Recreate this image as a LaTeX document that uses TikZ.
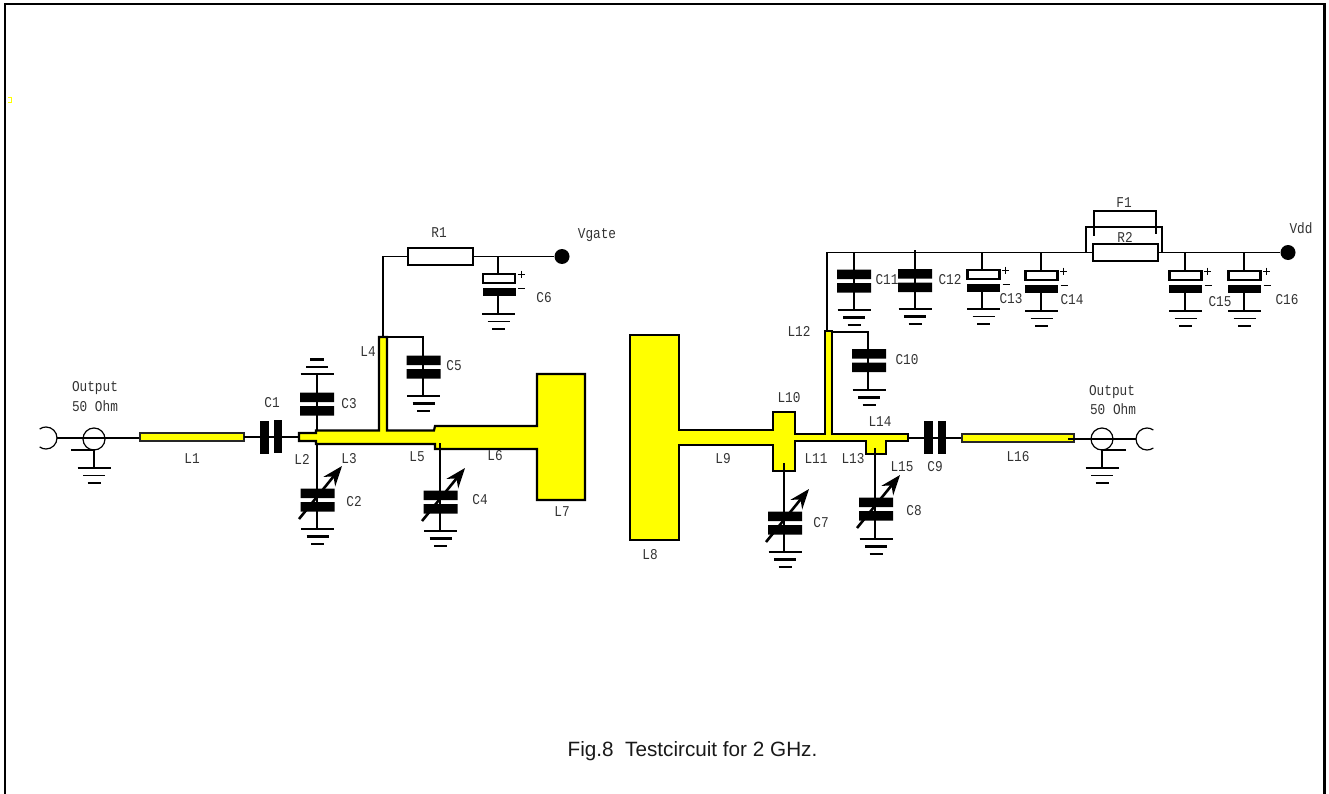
\documentclass[tikz,border=0pt]{standalone}
\usepackage{fontspec}
\setmainfont{Liberation Sans}
\setmonofont[FakeStretch=0.85]{Liberation Mono}
\usetikzlibrary{arrows.meta}
\definecolor{striptone}{RGB}{255,255,0}
\tikzset{
	wire/.style={line width=1.2pt, color=black},
	leg/.style={line width=2.6pt, color=black},
	strip/.style={draw=black, line width=2.2pt, fill=striptone, line join=miter},
	partlabel/.style={font=\ttfamily\fontsize{15}{17}\selectfont, color=black!80, inner sep=0pt},
	resbox/.style={draw=black, line width=2.2pt, fill=white, minimum width=65pt, minimum height=17pt, inner sep=0pt},
	padnode/.style={circle, fill=black, minimum size=15pt, inner sep=0pt},
}
\def\groundbars[#1](#2,#3){\draw[#1] (#2-16.5,#3) -- (#2+16.5,#3) (#2-11,#3+7.5) -- (#2+11,#3+7.5) (#2-6.5,#3+15) -- (#2+6.5,#3+15);}
\def\platecap(#1,#2){\fill[black] (#1-17,#2-11.5) rectangle (#1+17,#2-2) (#1-17,#2+2) rectangle (#1+17,#2+11.5);}
\def\trimarrow(#1,#2){\draw[line width=2.6pt, -{Stealth[length=20pt,width=15pt]}] (#1-18,#2+19) -- (#1+25,#2-34);}
\def\polarcap(#1,#2){
	\draw[line width=2.2pt] (#1-16,#2-9) rectangle (#1+16,#2);
	\fill[black] (#1-16.5,#2+5) rectangle (#1+16.5,#2+13);
	\draw[line width=0.9pt] (#1+18.5,#2-9) -- (#1+25.5,#2-9) (#1+22,#2-12.5) -- (#1+22,#2-5.5) (#1+19,#2+5) -- (#1+26,#2+5);
}

\begin{document}
\begin{tikzpicture}[x=1pt, y=-1pt]
			\useasboundingbox (0,0) rectangle (1329,794);
			
			%%%%% FRAME %%%%%
			\draw[line width=2.2pt] (5,794) -- (5,4) -- (1324.5,4) -- (1324.5,794);
			\draw[striptone, line width=1.5pt] (8,97.5) -- (11.5,97.5) -- (11.5,102.5) -- (8,102.5);
			
			%%%%% INPUT SIDE %%%%%
			\coordinate (portA) at (57,438);
			\coordinate (coaxA) at (94,439);
			\coordinate (stubA) at (94,450);
			\coordinate (earthA) at (94,468);
			\coordinate (lineA) at (145,438);
			\draw[wire] (portA) arc (0:-125:11);
			\draw[wire] (portA) arc (0:125:11);
			\draw[wire] (portA) -- (lineA);
			\draw[wire] (coaxA) circle (11);
			\draw[wire] (71,450) -- (stubA) -- (earthA);
			\groundbars[wire](94,468);
			
			\draw[strip, line width=2.4pt, draw=black!85] (140,433) rectangle (244,441);
			
			\coordinate (capAleft) at (244,437);
			\coordinate (capAright) at (299,437);
			\draw[wire] (capAleft) -- (capAright);
			\fill[black] (260,421) rectangle (269,454);
			\fill[black] (274,420) rectangle (282,453);
			
			%%%%% GATE STRIP %%%%%
			\coordinate (gateTop) at (383,337);
			\coordinate (gateBend) at (383,256.5);
			\node[resbox] (resOne) at (440.5,256.5) {};
			\node[padnode] (padGate) at (562,256.5) {};
			\coordinate (capSix) at (498,256.5);
			\draw[wire] (gateTop) -- (gateBend) -- (resOne.west);
			\draw[wire] (resOne.east) -- (padGate);
			\draw[wire] (capSix) -- (498,274);
			\draw[wire] (498,296) -- (498,314);
			\polarcap(499,283);
			\groundbars[wire](498.5,314);
			
			\draw[strip] (299,433) -- (316,433) -- (316,430.5) -- (379,430.5) -- (379,337) -- (387,337) -- (387,430.5) -- (434,430.5) -- (435,426) -- (537,426) -- (537,374) -- (585,374) -- (585,500) -- (537,500) -- (537,449) -- (435,449) -- (435,444) -- (316,444) -- (316,441) -- (299,441) -- cycle;
			
			\draw[leg] (317,374) -- (317,430);
			\platecap(317,404);
			\draw[leg] (300.5,374) -- (334,374) (306,367) -- (328,367) (310,359.5) -- (324,359.5);
			
			\draw[leg] (317,444) -- (317,529);
			\platecap(317.5,500);
			\trimarrow(317,500);
			\groundbars[leg](317.5,529);
			
			\draw[leg] (387,337) -- (423,337) -- (423,396);
			\platecap(423.5,367);
			\groundbars[leg](423.5,396);
			
			\draw[leg] (440,443) -- (440,531);
			\platecap(440.5,502);
			\trimarrow(440,502);
			\groundbars[leg](440.5,531);
			
			%%%%% DRAIN STRIP %%%%%
			\draw[strip] (630,335) -- (679,335) -- (679,430) -- (773,430) -- (773,412) -- (795,412) -- (795,434) -- (825,434) -- (825,331) -- (832,331) -- (832,434) -- (908,434) -- (908,441) -- (886,441) -- (886,454) -- (866,454) -- (866,441) -- (795,441) -- (795,471) -- (773,471) -- (773,445) -- (679,445) -- (679,540) -- (630,540) -- cycle;
			
			\draw[leg] (784,463) -- (784,552);
			\platecap(785,523);
			\trimarrow(784,523);
			\groundbars[leg](785,552);
			
			\draw[leg] (875,448) -- (875,539);
			\platecap(876,509);
			\trimarrow(875,509);
			\groundbars[leg](876,539);
			
			\draw[leg] (832,332) -- (868,332) -- (868,390);
			\platecap(869,360.5);
			\groundbars[leg](869,390);
			
			%%%%% SUPPLY %%%%%
			\node[resbox] (resTwo) at (1125.5,252.5) {};
			\node[padnode] (padSupply) at (1288,252.5) {};
			\coordinate (supplyTop) at (827,252.5);
			\coordinate (supplyFoot) at (827,331);
			\draw[wire] (supplyFoot) -- (supplyTop) -- (resTwo.west);
			\draw[wire] (resTwo.east) -- (padSupply);
			\draw[wire] (1086,252.5) -- (1086,227) -- (1162,227) -- (1162,252.5);
			\draw[wire] (1094,236) -- (1094,211) -- (1156,211) -- (1156,234);
			
			\draw[leg] (854,252) -- (854,310);
			\platecap(854,281);
			\groundbars[leg](854,310);
			
			\draw[leg] (915,250) -- (915,309);
			\platecap(915,280.5);
			\groundbars[leg](915,309);
			
			\draw[wire] (982,252.5) -- (982,270) (982,292) -- (982,309);
			\polarcap(983.5,279);
			\groundbars[wire](983.5,309);
			
			\draw[wire] (1041,252.5) -- (1041,271) (1041,293) -- (1041,311);
			\polarcap(1041.5,280);
			\groundbars[wire](1041.5,311);
			
			\draw[wire] (1185,252.5) -- (1185,271) (1185,293) -- (1185,311);
			\polarcap(1185.5,280);
			\groundbars[wire](1185.5,311);
			
			\draw[wire] (1244,252.5) -- (1244,271) (1244,293) -- (1244,311);
			\polarcap(1244.5,280);
			\groundbars[wire](1244.5,311);
			
			%%%%% OUTPUT SIDE %%%%%
			\coordinate (capNleft) at (908,438);
			\coordinate (capNright) at (962,438);
			\draw[wire] (capNleft) -- (capNright);
			\fill[black] (924,421) rectangle (933,454);
			\fill[black] (938,421) rectangle (946,454);
			
			\draw[strip, line width=2.4pt, draw=black!85] (962,434) rectangle (1074,442);
			
			\coordinate (lineB) at (1068,439);
			\coordinate (coaxB) at (1102,439);
			\coordinate (portB) at (1136,439);
			\coordinate (earthB) at (1102,468);
			\draw[wire] (lineB) -- (portB);
			\draw[wire] (portB) arc (180:305:11);
			\draw[wire] (portB) arc (180:55:11);
			\draw[wire, fill=none] (coaxB) circle (11);
			\draw[wire] (1126,450) -- (1102,450) -- (earthB);
			\groundbars[wire](1102,468);
			
			%%%%% LABELS %%%%%
			\node[partlabel] (lblOutA) at (95,388) {Output};
			\node[partlabel] (lblOhmA) at (95,406) {50 Ohm};
			\node[partlabel] (lblOutB) at (1112,392) {Output};
			\node[partlabel] (lblOhmB) at (1113,409) {50 Ohm};
			\node[partlabel] (lblLone) at (192,459) {L1};
			\node[partlabel] (lblLtwo) at (302,459) {L2};
			\node[partlabel] (lblLthree) at (349,459) {L3};
			\node[partlabel] (lblLfour) at (368,352) {L4};
			\node[partlabel] (lblLfive) at (417,457) {L5};
			\node[partlabel] (lblLsix) at (495,456) {L6};
			\node[partlabel] (lblLseven) at (562,512) {L7};
			\node[partlabel] (lblLeight) at (650,555) {L8};
			\node[partlabel] (lblLnine) at (723,459) {L9};
			\node[partlabel] (lblLten) at (789,398) {L10};
			\node[partlabel] (lblLeleven) at (816,459) {L11};
			\node[partlabel] (lblLtwelve) at (799,331) {L12};
			\node[partlabel] (lblLthirteen) at (853,459) {L13};
			\node[partlabel] (lblLfourteen) at (880,422) {L14};
			\node[partlabel] (lblLfifteen) at (902,467) {L15};
			\node[partlabel] (lblLsixteen) at (1018,457) {L16};
			\node[partlabel] (lblCone) at (272,403) {C1};
			\node[partlabel] (lblCtwo) at (354,502) {C2};
			\node[partlabel] (lblCthree) at (349,404) {C3};
			\node[partlabel] (lblCfour) at (480,500) {C4};
			\node[partlabel] (lblCfive) at (454,366) {C5};
			\node[partlabel] (lblCsix) at (544,298) {C6};
			\node[partlabel] (lblCseven) at (821,523) {C7};
			\node[partlabel] (lblCeight) at (914,511) {C8};
			\node[partlabel] (lblCnine) at (935,467) {C9};
			\node[partlabel] (lblCten) at (907,360) {C10};
			\node[partlabel] (lblCeleven) at (887,280) {C11};
			\node[partlabel] (lblCtwelve) at (950,280) {C12};
			\node[partlabel] (lblCthirteen) at (1011,299) {C13};
			\node[partlabel] (lblCfourteen) at (1072,300) {C14};
			\node[partlabel] (lblCfifteen) at (1220,302) {C15};
			\node[partlabel] (lblCsixteen) at (1287,300) {C16};
			\node[partlabel] (lblRone) at (439,233) {R1};
			\node[partlabel] (lblRtwo) at (1125,237) {R2};
			\node[partlabel] (lblFone) at (1124,203) {F1};
			\node[partlabel] (lblVgate) at (597,235) {Vgate};
			\node[partlabel] (lblVdd) at (1301,228) {Vdd};
			
			\node[font=\fontsize{20.7}{24}\selectfont, inner sep=0pt, color=black!90, anchor=base] (caption) at (692.5,756) {Fig.8\ \ Testcircuit for 2 GHz.};
		\end{tikzpicture}
\end{document}
